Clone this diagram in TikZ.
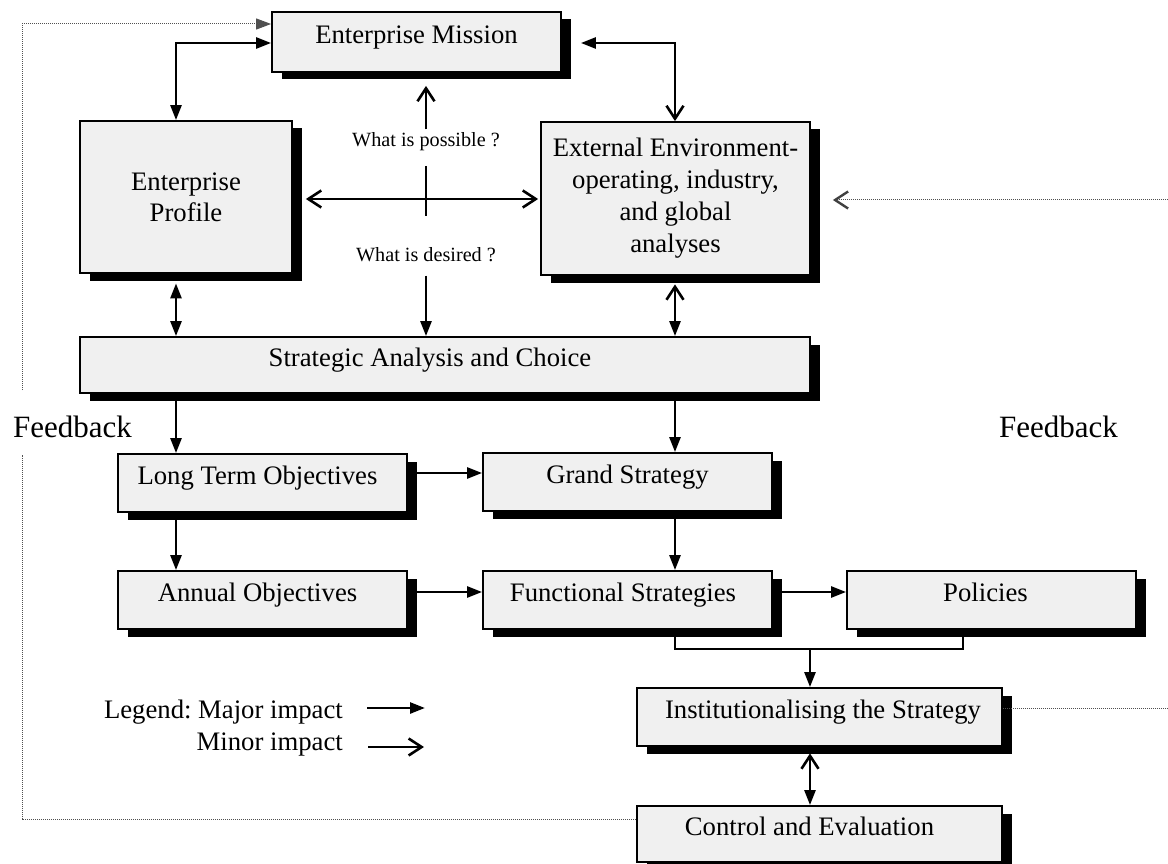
\documentclass[tikz,border=0pt]{standalone}
\usepackage{fontspec}
\setmainfont{Liberation Serif}
\frenchspacing
\usetikzlibrary{arrows.meta,shadows}
\definecolor{boxfill}{RGB}{240,240,240}
\definecolor{fbgrey}{RGB}{80,80,80}

\tikzset{
  Solid/.tip={Triangle[length=15pt,width=11pt]},
  Chev/.tip={Straight Barb[length=13pt,width=17pt]},
  FbChev/.tip={Straight Barb[length=13pt,width=17pt,line width=2.4pt,color=black!75]},
  stage/.style={draw=black, line width=1.8pt, fill=boxfill, inner sep=0pt,
    font=\fontsize{26.7}{31}\selectfont,
    drop shadow={shadow xshift=9.5pt, shadow yshift=-7.5pt, opacity=1, fill=black}},
  oneline/.style={text height=18pt, text depth=15pt},
  wide/.style={minimum width=289pt, minimum height=58pt},
  link/.style={line width=2.6pt, draw=black},
  fbline/.style={line width=1pt, draw=fbgrey, dash pattern=on 1pt off 1pt},
  note/.style={font=\fontsize{20.2}{24}\selectfont},
  fbtext/.style={font=\fontsize{31}{36}\selectfont, inner sep=0pt},
  legend/.style={font=\fontsize{26.7}{31}\selectfont, inner sep=0pt, anchor=base east},
}

\begin{document}
\begin{tikzpicture}[x=1pt,y=-1pt]
\useasboundingbox (0,0) rectangle (1168,864);

% ---- stage boxes ----
\node[stage, oneline, minimum width=289pt, minimum height=60pt] (em) at (416.5,42) {Enterprise Mission};
\node[stage, align=center, minimum width=212pt, minimum height=152pt] (prof) at (186,197) {Enterprise\\Profile};
\node[stage, font=\fontsize{26.7}{32}\selectfont, minimum width=269pt, minimum height=153pt] (ext) at (675.5,198.5)
  {\raisebox{5pt}{\begin{tabular}{@{}c@{}}External Environment-\\operating, industry,\\and global\\analyses\end{tabular}}};
\node[stage, oneline, minimum width=730pt, minimum height=56pt] (sac) at (445,365) {Strategic Analysis and Choice\hspace*{30pt}};
\node[stage, oneline, wide] (lto) at (262.5,483) {Long Term Objectives\hspace*{10pt}};
\node[stage, oneline, wide] (gs) at (627.5,482) {Grand Strategy};
\node[stage, oneline, wide] (ao) at (262.5,600) {Annual Objectives\hspace*{10pt}};
\node[stage, oneline, wide] (fs) at (627.5,600) {Functional Strategies\hspace*{9pt}};
\node[stage, oneline, wide] (pol) at (991.5,600) {Policies\hspace*{12pt}};
\node[stage, oneline, minimum width=365pt, minimum height=58pt] (inst) at (819.5,717) {\hspace*{7pt}Institutionalising the Strategy};
\node[stage, oneline, minimum width=365pt, minimum height=56pt] (ce) at (819.5,834) {Control and Evaluation\hspace*{20pt}};

% ---- free texts ----
\node[note] (wp) at (426,142) {What is possible ?};
\node[note] (wd) at (426,255) {What is desired ?};
\node[fbtext] (fbl) at (72.5,427) {Feedback};
\node[fbtext] (fbr) at (1058.5,427) {Feedback};
\node[legend] (lg1) at (343,718) {Legend: Major impact};
\node[legend] (lg2) at (343,750) {Minor impact};

% ---- routing points ----
\coordinate (vL) at (176,43);
\coordinate (vR) at (675,43);
\coordinate (cx1) at (426,166);
\coordinate (cx2) at (426,216);
\coordinate (midrow) at (0,199);
\coordinate (rowA) at (0,473);
\coordinate (rowB) at (0,592);
\coordinate (brk) at (963,649);
\coordinate (drop) at (810,649);
\coordinate (fl1) at (22,819);
\coordinate (fl2) at (22,455);
\coordinate (fl3) at (22,390);
\coordinate (fl4) at (22,24);
\coordinate (fr1) at (1168,708);
\coordinate (fr2) at (1168,200);
\coordinate (lgA1) at (367,708);
\coordinate (lgA2) at (425,708);
\coordinate (lgB1) at (368,747);
\coordinate (lgB2) at (424,747);

% ---- connectors ----
\draw[link, Solid-Solid] (vL |- prof.north) -- (vL) -- (vL -| em.west);
\draw[link, Chev-Solid, shorten >=19pt] (vR |- ext.north) -- (vR) -- (vR -| em.east);
\draw[link, -Chev, shorten >=13pt] (wp.north) -- (wp.north |- em.south);
\draw[link] (cx1) -- (cx2);
\draw[link, Chev-Chev, shorten <=13pt, shorten >=2pt] (midrow -| prof.east) -- (midrow -| ext.west);
\draw[link, -Solid, shorten <=10pt] (wd.south) -- (wd.south |- sac.north);
\draw[link, Solid-Solid, shorten <=9.5pt] (vL |- prof.south) -- (vL |- sac.north);
\draw[link, Chev-Solid, shorten <=8.5pt] (vR |- ext.south) -- (vR |- sac.north);
\draw[link, -Solid] (vL |- sac.south) -- (vL |- lto.north);
\draw[link, -Solid] (vR |- sac.south) -- (vR |- gs.north);
\draw[link, -Solid] (vL |- lto.south) -- (vL |- ao.north);
\draw[link, -Solid] (vR |- gs.south) -- (vR |- fs.north);
\draw[link, -Solid] (rowA -| lto.east) -- (rowA -| gs.west);
\draw[link, -Solid] (rowB -| ao.east) -- (rowB -| fs.west);
\draw[link, -Solid] (rowB -| fs.east) -- (rowB -| pol.west);
\draw[link] (vR |- fs.south) -- (vR |- brk) -- (brk) -- (brk |- pol.south);
\draw[link, -Solid] (drop) -- (drop |- inst.north);
\draw[link, Chev-Solid, shorten <=6.5pt] (drop |- inst.south) -- (drop |- ce.north);

% ---- feedback loops ----
\draw[fbline] (fl1 -| ce.west) -- (fl1) -- (fl2);
\draw[fbline, -Solid] (fl3) -- (fl4) -- (fl4 -| em.west);
\draw[fbline] (fr1 -| inst.east) -- (fr1);
\draw[fbline, -FbChev, shorten >=22pt] (fr2) -- (fr2 -| ext.east);

% ---- legend arrows ----
\draw[link, -Solid] (lgA1) -- (lgA2);
\draw[link, -Chev] (lgB1) -- (lgB2);
\end{tikzpicture}
\end{document}
